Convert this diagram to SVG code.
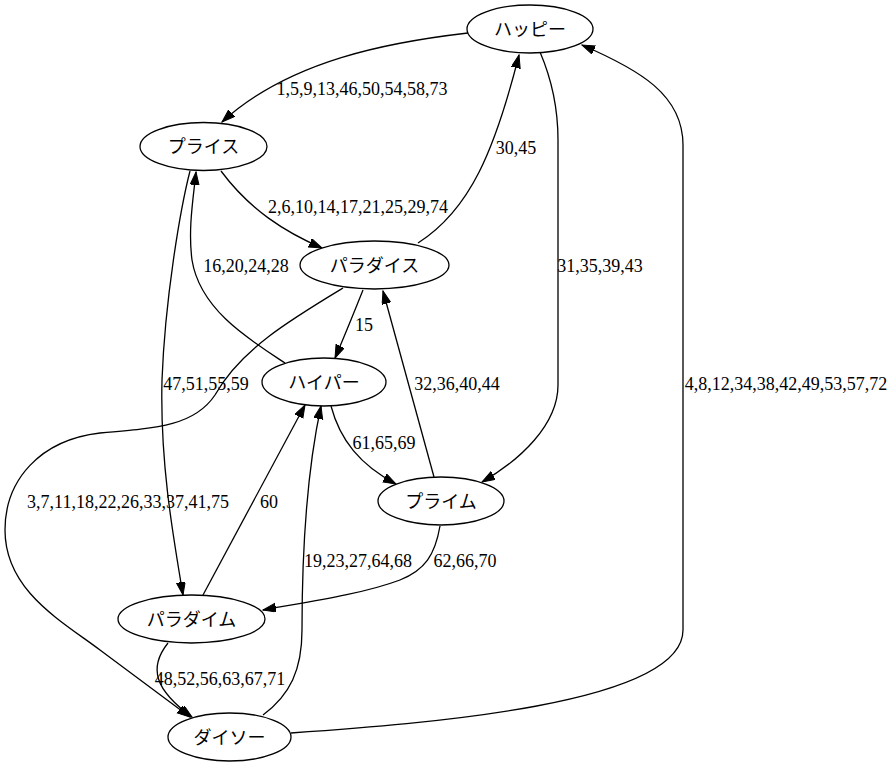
<svg xmlns="http://www.w3.org/2000/svg" width="895" height="767" viewBox="0 0 895 767">
<style>
.node ellipse{fill:#fff;stroke:#000;stroke-width:1.3}
.node text{font-family:"Liberation Serif","Noto Sans CJK JP",serif;font-size:18px;text-anchor:middle;fill:#000}
.edges path{fill:none;stroke:#000;stroke-width:1.3;marker-end:url(#ah)}
.edges text{font-family:"Liberation Serif",serif;font-size:18px;text-anchor:middle;fill:#000}
</style>
<defs>
<marker id="ah" markerUnits="userSpaceOnUse" markerWidth="14" markerHeight="10" refX="13" refY="4.5" orient="auto">
<path d="M0,0 L13,4.5 L0,9 z" fill="#000" stroke="#000" stroke-width="1"/>
</marker>
</defs>
<rect width="895" height="767" fill="#fff"/>
<g id="edges" class="edges">
<path d="M468,33 C390,42 290,60 222,122"/>
<text x="362" y="95">1,5,9,13,46,50,54,58,73</text>
<path d="M221,171 C250,210 285,232 322,248"/>
<text x="358" y="213">2,6,10,14,17,21,25,29,74</text>
<path d="M418,243 C470,210 495,150 519,55"/>
<text x="516" y="154">30,45</text>
<path d="M540,52 C552,80 558,110 558,140 L558,385 C558,425 520,460 482,482"/>
<text x="600" y="272">31,35,39,43</text>
<path d="M291,733 C420,724 683,705 683,630 L683,145 C683,95 640,70 582,45"/>
<text x="786" y="390">4,8,12,34,38,42,49,53,57,72</text>
<path d="M363,290 C355,310 345,335 335,358"/>
<text x="364" y="331">15</text>
<path d="M285,363 C250,340 200,310 192,260 C188,230 193,200 196,172"/>
<text x="246" y="272">16,20,24,28</text>
<path d="M343,288 C290,320 240,350 215,395 C195,425 160,428 100,433 C40,440 5,480 5,530 C5,590 60,620 100,650 L190,717"/>
<text x="128" y="508">3,7,11,18,22,26,33,37,41,75</text>
<path d="M190,171 C180,210 165,300 162,380 C160,460 172,530 183,595"/>
<text x="206" y="390">47,51,55,59</text>
<path d="M203,595 C235,535 270,470 305,405"/>
<text x="269" y="508">60</text>
<path d="M263,715 C290,695 302,670 302,630 C302,560 305,480 321,406"/>
<text x="358" y="567">19,23,27,64,68</text>
<path d="M331,406 C340,440 360,465 396,484"/>
<text x="384" y="449">61,65,69</text>
<path d="M434,477 L383,291"/>
<text x="457" y="390">32,36,40,44</text>
<path d="M440,526 C435,555 425,570 400,580 C360,595 300,603 263,610"/>
<text x="465" y="567">62,66,70</text>
<path d="M168,643 C148,668 155,690 192,717"/>
<text x="220" y="685">48,52,56,63,67,71</text>
</g>
<g id="n_happy" class="node"><ellipse cx="530" cy="29" rx="63" ry="24"/><text x="530" y="36">ハッピー</text></g>
<g id="n_price" class="node"><ellipse cx="203.5" cy="146.5" rx="63.5" ry="24"/><text x="203.5" y="153">プライス</text></g>
<g id="n_paradise" class="node"><ellipse cx="374.5" cy="265" rx="74.5" ry="24"/><text x="374.5" y="272">パラダイス</text></g>
<g id="n_hyper" class="node"><ellipse cx="324" cy="382" rx="62" ry="24"/><text x="324" y="389">ハイパー</text></g>
<g id="n_prime" class="node"><ellipse cx="441" cy="501" rx="63" ry="24"/><text x="441" y="508">プライム</text></g>
<g id="n_paradigm" class="node"><ellipse cx="191.5" cy="619" rx="73.5" ry="24"/><text x="191.5" y="626">パラダイム</text></g>
<g id="n_daiso" class="node"><ellipse cx="229.5" cy="737" rx="61.5" ry="24"/><text x="229.5" y="744">ダイソー</text></g>
</svg>
